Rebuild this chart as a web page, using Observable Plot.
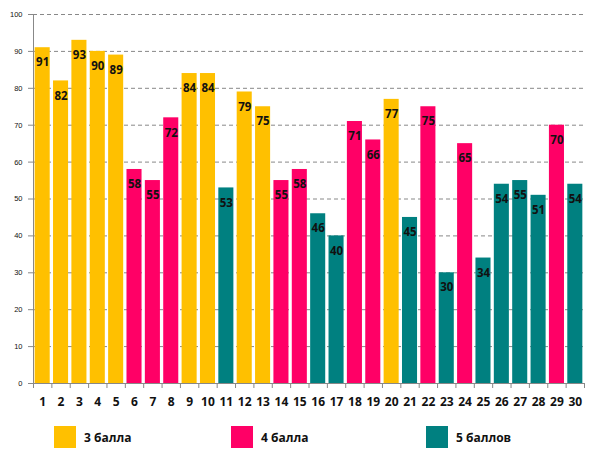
<!DOCTYPE html>
<html>
<head>
<meta charset="utf-8">
<script src="https://cdn.jsdelivr.net/npm/d3@7"></script>
<script src="https://cdn.jsdelivr.net/npm/@observablehq/plot@0.6"></script>
<style>
  body { margin: 0; background: #fff; font-family: "Open Sans", "Liberation Sans", sans-serif; }
  #legend { position: relative; height: 48px; width: 592px; }
  .item { position: absolute; top: 11px; display: flex; align-items: center; font-weight: bold; font-size: 12px; color: #111; }
  .sw { width: 22px; height: 22px; margin-right: 8px; }
</style>
</head>
<body>
<div id="chart"></div>
<div id="legend"></div>
<script>
// номер задания, средний процент выполнения, группа
const tasks = d3.range(1, 31)
const values = [91, 82, 93, 90, 89, 58, 55, 72, 84, 84, 53, 79, 75, 55, 58, 46, 40, 71, 66, 77, 45, 75, 30, 65, 34, 54, 55, 51, 70, 54]
const groups = ['3','3','3','3','3','4','4','4','3','3','5','3','3','4','4','5','5','4','4','3','5','4','5','4','5','5','5','5','4','5']

const groupNames = ['3 балла', '4 балла', '5 баллов']
const groupColors = {'3': '#FFC000', '4': '#FF0066', '5': '#008080'}
const legendX = [54, 231, 426]
const yTicks = d3.range(0, 101, 10)

const data = tasks.map((t, i) => ({task: t, value: values[i], group: groups[i]}))

const step = (592 - 33 - 8) / 30

let chart = Plot.plot({
  width: 592,
  height: 415,
  marginTop: 14,
  marginBottom: 32,
  marginLeft: 33,
  marginRight: 8,
  style: {fontFamily: '"Liberation Sans", Arial, sans-serif', background: '#fff'},
  x: {domain: tasks, paddingInner: 0.18, paddingOuter: 0.09, round: false, label: null},
  y: {domain: [0, 100], label: null},
  marks: [
    Plot.ruleY(yTicks.filter(d => d > 0), {stroke: '#888', strokeDasharray: '4,3', strokeWidth: 1}),
    Plot.barY(data, {x: 'task', y: 'value', fill: d => groupColors[d.group]}),
    Plot.text(data, {x: 'task', y: 'value', text: d => String(d.value), dy: 15,
      fontWeight: 'bold', fontSize: 11.5, fill: '#111', fontFamily: '"Open Sans", sans-serif'}),
    Plot.axisY({ticks: yTicks, tickSize: 5, tickPadding: 6, fontSize: 7.5, stroke: '#888', color: '#111'}),
    Plot.frame({anchor: 'left', stroke: '#888'}),
    Plot.ruleY([0], {stroke: '#888'}),
    // засечки между столбцами
    Plot.axisX({tickSize: 5, text: null, dx: -step / 2, stroke: '#888'}),
    Plot.axisX({ticks: [30], tickSize: 5, text: null, dx: step / 2, stroke: '#888'}),
    Plot.axisX({tickSize: 0, tickPadding: 14, fontSize: 12, fontWeight: 'bold', color: '#111',
      fontFamily: '"Open Sans", sans-serif'})
  ]
})

d3.select('#chart').append(() => chart)

const legend = d3.select('#legend')
groupNames.forEach((name, i) => {
  const it = legend.append('div').attr('class', 'item').style('left', legendX[i] + 'px')
  it.append('div').attr('class', 'sw').style('background', groupColors[String(i + 3)])
  it.append('span').text(name)
})
</script>
</body>
</html>
